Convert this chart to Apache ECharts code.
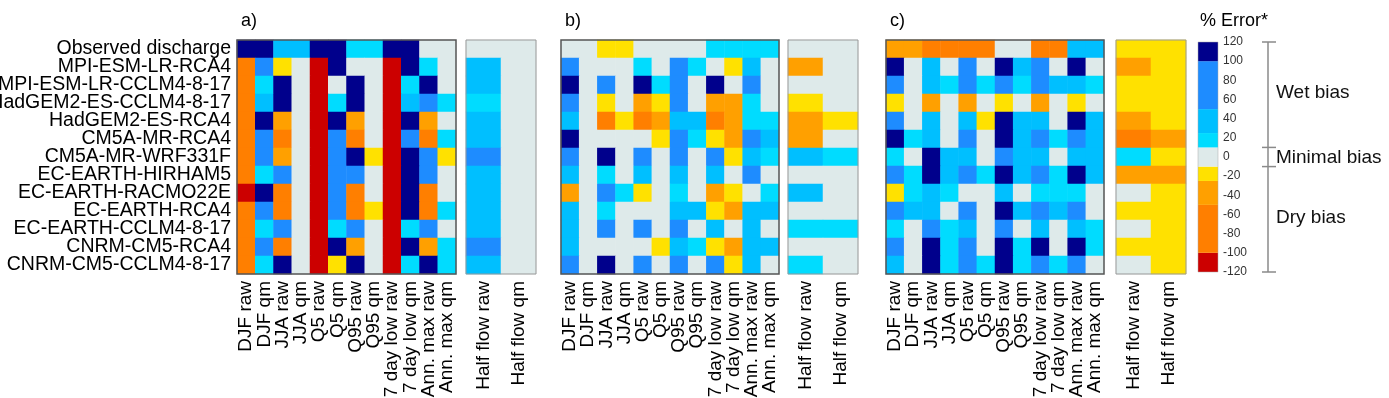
<!DOCTYPE html>
<html>
<head>
<meta charset="utf-8">
<script src="https://cdn.jsdelivr.net/npm/echarts@6/dist/echarts.min.js"></script>
<style>
  html, body { margin: 0; padding: 0; background: #fff; }
  #chart { width: 1389px; height: 398px; }
</style>
</head>
<body>
<div id="chart"></div>
<script>
// rows (top to bottom) and columns
var models = ['Observed discharge', 'MPI-ESM-LR-RCA4', 'MPI-ESM-LR-CCLM4-8-17', 'HadGEM2-ES-CCLM4-8-17',
  'HadGEM2-ES-RCA4', 'CM5A-MR-RCA4', 'CM5A-MR-WRF331F', 'EC-EARTH-HIRHAM5', 'EC-EARTH-RACMO22E',
  'EC-EARTH-RCA4', 'EC-EARTH-CCLM4-8-17', 'CNRM-CM5-RCA4', 'CNRM-CM5-CCLM4-8-17']
var indices = ['DJF raw', 'DJF qm', 'JJA raw', 'JJA qm', 'Q5 raw', 'Q5 qm', 'Q95 raw', 'Q95 qm',
  '7 day low raw', '7 day low qm', 'Ann. max raw', 'Ann. max qm']
var halfFlow = ['Half flow raw', 'Half flow qm']

// % error, estimated from the colour classes of the picture
var errA = [
  [110, 110, 35, 35, 110, 110, 15, 15, 110, 110, 0, 0],
  [-75, 75, -15, 0, -110, 110, 0, 0, -110, 110, 15, 0],
  [-75, 15, 110, 0, -110, 0, 110, 0, -110, 15, 110, 0],
  [-75, 35, 110, 0, -110, 15, 110, 0, -110, 35, 75, 15],
  [-75, 110, -35, 0, -110, 110, -35, 0, -110, 110, -35, 0],
  [-75, 75, -75, 0, -110, 75, -75, 0, -110, 75, -75, 15],
  [-75, 75, -35, 0, -110, 75, 110, -15, -110, 110, 75, -15],
  [-75, 15, 75, 0, -110, 75, 75, 0, -110, 110, 75, 0],
  [-110, 110, -75, 0, -110, 75, -75, 0, -110, 110, -75, 0],
  [-75, 75, -75, 0, -110, 75, -75, -15, -110, 110, -75, 15],
  [-75, 15, 75, 0, -110, 15, 75, 0, -110, 15, 75, 0],
  [-75, 75, -75, 0, -110, 110, -35, 0, -110, 110, -35, 15],
  [-75, 15, 110, 0, -110, -15, 110, 0, -110, 15, 110, 15]
]
var halfA = [[0, 0], [35, 0], [35, 0], [15, 0], [35, 0], [35, 0], [75, 0], [35, 0], [35, 0], [35, 0], [35, 0], [75, 0], [35, 0]]

var errB = [
  [0, 0, -15, -15, 0, 0, 0, 0, 15, 15, 15, 15],
  [75, 0, 0, 0, 15, 0, 75, 15, 0, -15, 35, 0],
  [110, 0, 75, 0, 110, 15, 75, 0, 110, 0, 75, 0],
  [75, 0, -15, 0, -35, -15, 75, 0, -35, -35, 15, 0],
  [35, 0, -75, -15, -75, -35, 35, 35, -75, -35, 15, 15],
  [110, 0, 0, 0, 0, -15, 75, 15, -15, -35, 75, 35],
  [75, 0, 110, 0, 75, 0, 75, 0, 75, -15, 35, 15],
  [35, 0, 15, 0, 35, 0, 35, 0, 35, 0, 75, 0],
  [-35, 0, 75, 15, -15, 0, 15, 0, -35, -15, 0, 15],
  [35, 0, 15, 0, 0, 0, 35, 35, -15, -35, 35, 35],
  [35, 0, 75, 0, 75, 0, 75, 0, 35, 0, 35, 0],
  [35, 0, 0, 0, 0, -15, 35, 15, -15, -35, 35, 35],
  [75, 0, 110, 0, 75, 0, 75, 0, 75, -15, 35, 0]
]
var halfB = [[0, 0], [-35, 0], [0, 0], [-15, 0], [-35, -15], [-35, 0], [35, 15], [0, 0], [35, 0], [0, 0], [15, 15], [0, 0], [15, 0]]

var errC = [
  [-35, -35, -75, -75, -75, -75, 0, 0, -75, -75, 35, 35],
  [110, 0, 35, 0, 75, 0, 110, 35, 75, 0, 110, 0],
  [75, 0, 35, 15, 75, 15, 75, 15, 75, 35, 35, 15],
  [-15, 0, -35, 0, -35, 0, -15, 0, -35, 0, -15, 0],
  [75, 0, 35, 0, 35, -15, 110, 35, 35, 0, 110, 35],
  [110, 15, 35, 0, 75, 0, 110, 35, 75, 15, 75, 35],
  [15, 0, 110, 35, 35, 0, 75, 35, 35, 0, 35, 35],
  [75, 15, 110, 35, 75, 15, 110, 35, 75, 15, 110, 35],
  [-15, 15, 35, 15, 0, 0, 35, 0, 15, 15, 15, 0],
  [75, 35, 35, 0, 75, 0, 110, 35, 75, 35, 75, 0],
  [15, 0, 75, 15, 35, 0, 75, 0, 35, 0, 35, 15],
  [75, 0, 110, 15, 75, 0, 110, 15, 110, 0, 110, 15],
  [35, 0, 110, 15, 75, 15, 110, 15, 75, 15, 75, 0]
]
var halfC = [[-15, -15], [-35, -15], [-15, -15], [-15, -15], [-35, -15], [-75, -35], [15, -15], [-35, -35], [0, -15], [-15, -15], [0, -15], [-15, -15], [0, -15]]

// colour classes of the legend
var levels = [-120, -100, -50, -25, -10, 10, 25, 50, 100, 120]
var levelColors = ['#cc0000', '#ff7f00', '#ffa000', '#ffe100', '#deeaea', '#00dcff', '#00bfff', '#1e8cff', '#00008c']

var FONT = 'Liberation Sans'

function toCells(rows) {
  var out = []
  rows.forEach(function (row, y) {
    row.forEach(function (v, x) { out.push([x, y, v]) })
  })
  return out
}

var panels = [
  { left: 237, width: 219, cols: indices, data: errA, main: true },
  { left: 466, width: 70, cols: halfFlow, data: halfA },
  { left: 561, width: 218, cols: indices, data: errB, main: true },
  { left: 788, width: 70, cols: halfFlow, data: halfB },
  { left: 886, width: 218, cols: indices, data: errC, main: true },
  { left: 1116, width: 70, cols: halfFlow, data: halfC }
]

var grid = [], xAxis = [], yAxis = [], series = []
panels.forEach(function (p, i) {
  grid.push({
    left: p.left, top: 40, width: p.width, height: 234, outerBoundsMode: 'none',
    show: true, z: 5, backgroundColor: 'transparent',
    borderColor: p.main ? '#555' : '#999', borderWidth: p.main ? 1.5 : 1
  })
  xAxis.push({
    type: 'category', gridIndex: i, data: p.cols,
    axisLine: { show: false }, axisTick: { show: false }, splitLine: { show: false },
    axisLabel: { interval: 0, rotate: 90, margin: 7, color: '#000', fontFamily: FONT, fontSize: 19 }
  })
  yAxis.push({
    type: 'category', gridIndex: i, data: models, inverse: true,
    axisLine: { show: false }, axisTick: { show: false }, splitLine: { show: false },
    axisLabel: { show: i === 0, interval: 0, margin: 6, color: '#000', fontFamily: FONT, fontSize: 19.5 }
  })
  series.push({
    type: 'heatmap', xAxisIndex: i, yAxisIndex: i, data: toCells(p.data),
    silent: true, itemStyle: { borderWidth: 0 }
  })
})

// colour bar: stacked segments on an offset axis (0..240 shown as -120..120)
grid.push({ left: 1198, top: 42, width: 20, height: 230, outerBoundsMode: 'none', show: true, z: 5, backgroundColor: 'transparent', borderColor: '#aaa', borderWidth: 0.5 })
xAxis.push({ type: 'category', gridIndex: 6, data: ['e'], show: false })
yAxis.push({
  type: 'value', gridIndex: 6, position: 'right', min: 0, max: 240, interval: 20,
  axisLine: { show: false }, axisTick: { show: false }, splitLine: { show: false },
  axisLabel: { margin: 5, color: '#333', fontFamily: FONT, fontSize: 12, formatter: function (v) { return v - 120 } }
})
for (var k = 0; k < levelColors.length; k++) {
  series.push({
    type: 'bar', xAxisIndex: 6, yAxisIndex: 6, stack: 'cb', barWidth: '100%', silent: true,
    data: [levels[k + 1] - levels[k]], itemStyle: { color: levelColors[k] }
  })
}

var pieces = levelColors.map(function (c, k) {
  return { gte: levels[k], lt: levels[k + 1], color: c }
})

function cbY(v) { return 42 + (120 - v) / 240 * 230 }
var lineStyle = { stroke: '#8a8a8a', lineWidth: 1.5 }
var bracket = [
  { type: 'line', shape: { x1: 1268, y1: cbY(120), x2: 1268, y2: cbY(-120) }, style: lineStyle }
]
;[120, 10, -10, -120].forEach(function (v) {
  bracket.push({ type: 'line', shape: { x1: 1262, y1: cbY(v), x2: 1276, y2: cbY(v) }, style: lineStyle })
})
var notes = [['Wet bias', 93], ['Minimal bias', 158], ['Dry bias', 218]]
notes.forEach(function (n) {
  bracket.push({
    type: 'text', x: 1276, y: n[1],
    style: { text: n[0], fill: '#111', font: '19px "' + FONT + '"', textVerticalAlign: 'middle', textAlign: 'left' }
  })
})

var titleStyle = { fontFamily: FONT, fontSize: 18, fontWeight: 'normal', color: '#000' }
var chart = echarts.init(document.getElementById('chart'))
chart.setOption({
  animation: false,
  title: [
    { text: 'a)', left: 236, top: 7, textStyle: titleStyle },
    { text: 'b)', left: 560, top: 7, textStyle: titleStyle },
    { text: 'c)', left: 885, top: 7, textStyle: titleStyle },
    { text: '% Error*', left: 1195, top: 7, textStyle: titleStyle }
  ],
  visualMap: {
    type: 'piecewise', show: false, seriesIndex: [0, 1, 2, 3, 4, 5], pieces: pieces
  },
  grid: grid,
  xAxis: xAxis,
  yAxis: yAxis,
  series: series,
  graphic: bracket
})
</script>
</body>
</html>
